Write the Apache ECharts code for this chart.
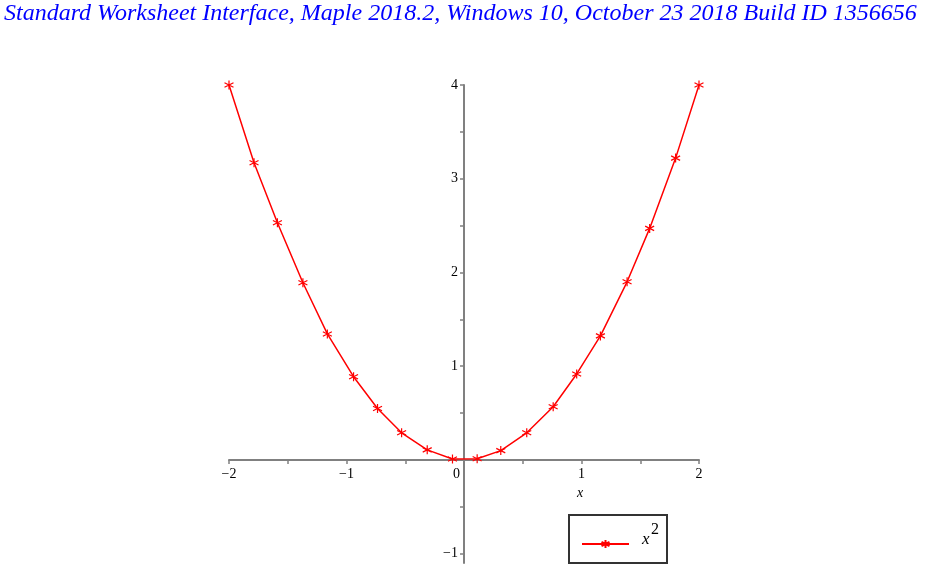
<!DOCTYPE html>
<html>
<head>
<meta charset="utf-8">
<script src="https://cdn.jsdelivr.net/npm/echarts@6/dist/echarts.min.js"></script>
<style>html,body{margin:0;padding:0;background:#fff}#c{width:926px;height:571px}</style>
</head>
<body>
<div id="c"></div>
<script>
const titleText = 'Standard Worksheet Interface, Maple 2018.2, Windows 10, October 23 2018 Build ID 1356656';
const seriesName = 'x^2';
const xValues = [-2, -1.787, -1.588, -1.371, -1.163, -0.940, -0.736, -0.531, -0.313, -0.098, 0.112, 0.313, 0.534, 0.759, 0.959, 1.161, 1.388, 1.580, 1.801, 2];
const yValues = [4, 3.17, 2.53, 1.89, 1.344, 0.888, 0.549, 0.289, 0.107, 0.01, 0.012, 0.099, 0.289, 0.567, 0.917, 1.323, 1.90, 2.47, 3.22, 4];
const xTickLabels = [-2, -1, 0, 1, 2];
const yTickLabels = [-1, 1, 2, 3, 4];
const yTicks = [-1, -0.5, 0, 0.5, 1, 1.5, 2, 2.5, 3, 3.5, 4];

const serif = 'Liberation Serif';
const star = 'path://M0,-1L0,1M-0.866,-0.5L0.866,0.5M-0.866,0.5L0.866,-0.5';
const fmtNum = v => String(v).replace('-', '\u2212');

const chart = echarts.init(document.getElementById('c'), null, {renderer: 'canvas'});
chart.setOption({
  animation: false,
  backgroundColor: '#fff',
  title: {
    text: titleText, left: 4, top: 2, padding: 0,
    textStyle: {fontFamily: serif, fontStyle: 'italic', fontWeight: 'normal', fontSize: 24, color: '#0000ff'}
  },
  grid: {left: 229, right: 227, top: 85, bottom: 8, containLabel: false, outerBoundsMode: 'none'},
  xAxis: {
    type: 'value', min: -2, max: 2, interval: 0.5,
    position: 'bottom', offset: -103,
    name: 'x', nameLocation: 'middle', nameGap: 26,
    nameTextStyle: {fontFamily: serif, fontStyle: 'italic', fontSize: 14, color: '#000', padding: [0, 0, 0, 232]},
    axisLine: {onZero: false, lineStyle: {color: '#808080', width: 2}},
    axisTick: {show: true, length: 4, lineStyle: {color: '#808080', width: 1.5}},
    splitLine: {show: false},
    axisLabel: {
      margin: 7, fontFamily: serif, fontSize: 14, color: '#000',
      formatter: v => {
        if (!xTickLabels.includes(v)) return '';
        if (v === 0) return '{z|0}';
        return fmtNum(v);
      },
      rich: {z: {fontFamily: serif, fontSize: 14, color: '#000', padding: [0, 15, 0, 0]}}
    }
  },
  yAxis: {
    type: 'value', min: -1.1, max: 4,
    position: 'left', offset: -235,
    axisLine: {onZero: false, lineStyle: {color: '#808080', width: 2}},
    axisTick: {show: true, length: 4, customValues: yTicks, lineStyle: {color: '#808080', width: 1.5}},
    splitLine: {show: false},
    axisLabel: {
      margin: 6, fontFamily: serif, fontSize: 14, color: '#000',
      customValues: yTickLabels,
      formatter: v => fmtNum(v)
    }
  },
  legend: {
    show: true, left: 569, top: 515,
    orient: 'horizontal',
    padding: [7, 8, 4, 12],
    borderColor: '#333', borderWidth: 2,
    itemWidth: 47, itemHeight: 10, itemGap: 0,
    data: [seriesName],
    formatter: () => '{s|2}\n{x|x}\n{b| }',
    textStyle: {
      padding: [0, 0, 0, 8],
      rich: {
        s: {fontFamily: serif, fontSize: 16, color: '#000', lineHeight: 12, padding: [0, 0, 0, 9]},
        x: {fontFamily: serif, fontStyle: 'italic', fontSize: 17, color: '#000', lineHeight: 8},
        b: {fontSize: 10, lineHeight: 20}
      }
    }
  },
  series: [{
    name: seriesName, type: 'line',
    data: xValues.map((x, i) => [x, yValues[i]]),
    symbol: star, symbolSize: 9,
    showSymbol: true,
    lineStyle: {color: '#ff0000', width: 1.5},
    itemStyle: {color: 'rgba(0,0,0,0)', borderColor: '#ff0000', borderWidth: 1.2},
    emphasis: {disabled: true}
  }]
});
</script>
</body>
</html>
